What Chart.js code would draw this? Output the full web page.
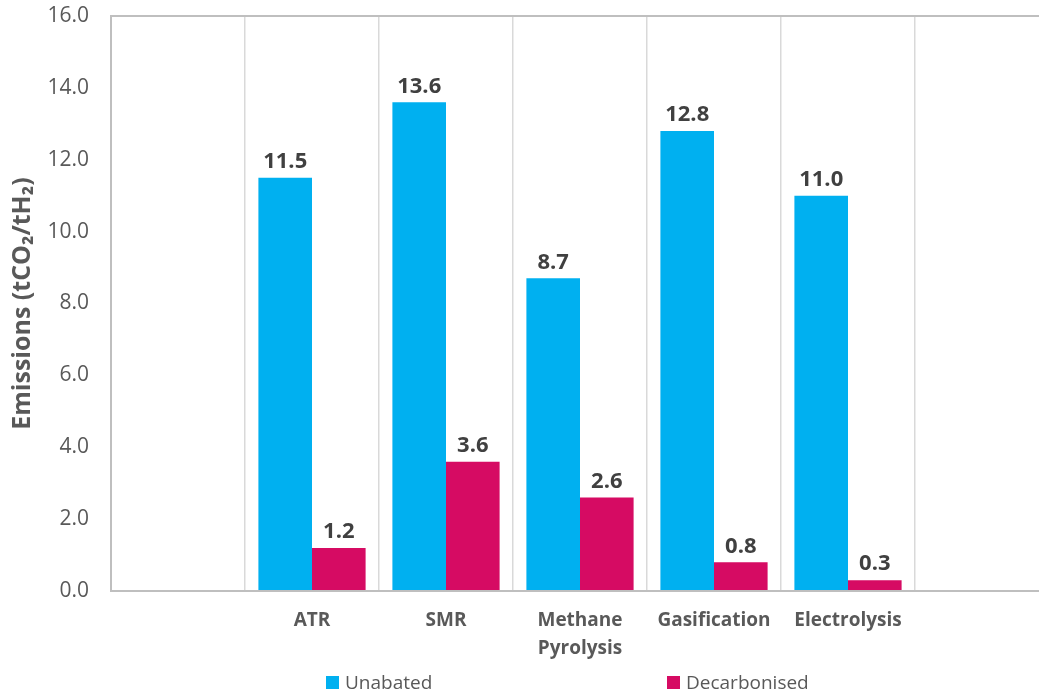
<!DOCTYPE html>
<html>
<head>
<meta charset="utf-8">
<script src="https://cdn.jsdelivr.net/npm/chart.js@4/dist/chart.umd.min.js"></script>
<style>
    html, body { margin: 0; padding: 0; background: #fff; overflow: hidden; }
    #wrap { position: relative; width: 1049px; height: 692px; }
</style>
</head>
<body>
<div id="wrap"><canvas id="chart"></canvas></div>
<script>
// Categories (first and last are empty slots, as in the original)
const categories = ["", "ATR", "SMR", ["Methane", "Pyrolysis"], "Gasification", "Electrolysis", ""];

// Series values, tCO2/tH2
const unabated = [null, 11.5, 13.6, 8.7, 12.8, 11.0, null];
const decarbonised = [null, 1.2, 3.6, 2.6, 0.8, 0.3, null];

// Y axis ticks
const yMin = 0;
const yMax = 16;
const yStep = 2;

const FONT = "'Open Sans', 'Noto Sans', sans-serif";
const TEXT = "#595959";

// Value labels above each bar
const barLabels = {
    id: "barLabels",
    afterDatasetsDraw(chart) {
        const ctx = chart.ctx;
        ctx.save();
        ctx.font = "bold 22px " + FONT;
        ctx.fillStyle = "#404040";
        ctx.textAlign = "center";
        ctx.textBaseline = "bottom";
        chart.data.datasets.forEach((ds, i) => {
            chart.getDatasetMeta(i).data.forEach((bar, j) => {
                const v = ds.data[j];
                if (v === null) return;
                ctx.fillText(v.toFixed(1), bar.x, bar.y - 5);
            });
        });
        ctx.restore();
    },
};

// Legend drawn under the axis with wide spacing
const wideLegend = {
    id: "wideLegend",
    afterDraw(chart) {
        const ctx = chart.ctx;
        const area = chart.chartArea;
        const offsets = [215, 556];
        ctx.save();
        ctx.font = "19px " + FONT;
        ctx.textBaseline = "alphabetic";
        chart.data.datasets.forEach((ds, i) => {
            const x = area.left + offsets[i];
            const y = 676;
            ctx.fillStyle = ds.backgroundColor;
            ctx.fillRect(x, y, 13, 13);
            ctx.fillStyle = TEXT;
            ctx.fillText(ds.label, x + 19, y + 13);
        });
        ctx.restore();
    },
};

const ctx = document.getElementById("chart").getContext("2d");
new Chart(ctx, {
    type: "bar",
    data: {
        labels: categories,
        datasets: [
            {
                label: "Unabated",
                data: unabated,
                backgroundColor: "#00B0F0",
                barPercentage: 1,
                categoryPercentage: 0.8,
            },
            {
                label: "Decarbonised",
                data: decarbonised,
                backgroundColor: "#D60B63",
                barPercentage: 1,
                categoryPercentage: 0.8,
            },
        ],
    },
    options: {
        responsive: true,
        maintainAspectRatio: false,
        animation: false,
        layout: {
            padding: { top: 16, left: 0, right: 0, bottom: 0 },
        },
        scales: {
            x: {
                offset: true,
                grid: {
                    offset: true,
                    color: "#D9D9D9",
                    lineWidth: 1.5,
                    drawTicks: false,
                },
                border: { color: "#BFBFBF", width: 2 },
                ticks: {
                    color: TEXT,
                    font: { family: FONT, size: 19, weight: "bold", lineHeight: 1.45 },
                    padding: 16,
                    maxRotation: 0,
                    autoSkip: false,
                },
                afterFit: (scale) => {
                    scale.height = 101;
                    scale.paddingLeft = 0;
                    scale.paddingRight = 0;
                },
            },
            y: {
                min: yMin,
                max: yMax,
                grid: {
                    drawTicks: false,
                    color: (c) => (c.tick && c.tick.value === yMax ? "#BFBFBF" : "rgba(0,0,0,0)"),
                    lineWidth: 2,
                },
                border: { color: "#BFBFBF", width: 2 },
                ticks: {
                    stepSize: yStep,
                    color: TEXT,
                    font: { family: FONT, size: 21 },
                    padding: 22,
                    callback: (v) => Number(v).toFixed(1),
                },
                title: {
                    display: true,
                    text: "Emissions (tCO₂/tH₂)",
                    color: TEXT,
                    font: { family: FONT, size: 25, weight: "bold" },
                    padding: { top: 8, bottom: 0 },
                },
                afterFit: (scale) => {
                    scale.width = 111;
                    scale.paddingTop = 0;
                    scale.paddingBottom = 0;
                },
            },
        },
        plugins: {
            legend: { display: false },
            tooltip: { enabled: false },
        },
    },
    plugins: [barLabels, wideLegend],
});
</script>
</body>
</html>
